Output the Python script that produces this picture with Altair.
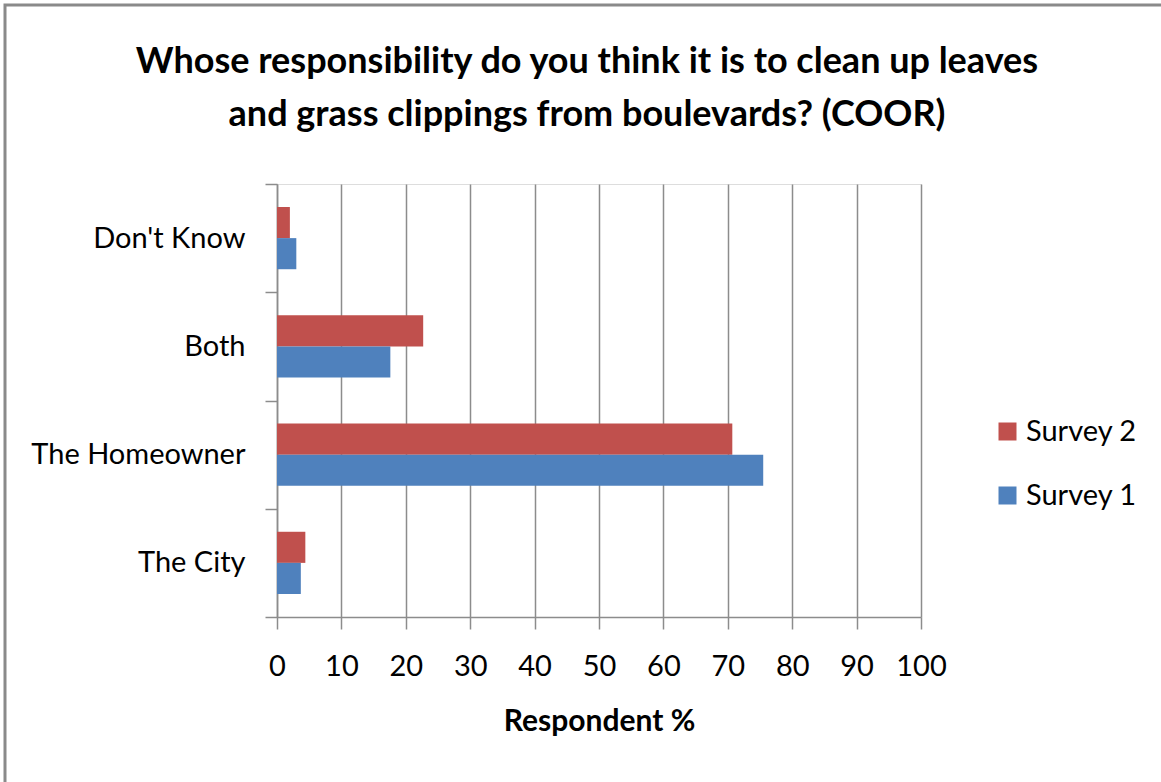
import altair as alt
import pandas as pd

categories = ["Don't Know", "Both", "The Homeowner", "The City"]
survey_2 = [2.0, 22.7, 70.7, 4.4]
survey_1 = [3.0, 17.6, 75.5, 3.7]
series = ["Survey 2", "Survey 1"]
x_ticks = list(range(0, 101, 10))
title_lines = [
    "Whose responsibility do you think it is to clean up leaves",
    "and grass clippings from boulevards? (COOR)",
]

rows = []
for c, v2, v1 in zip(categories, survey_2, survey_1):
    rows.append({"Category": c, "Series": "Survey 2", "Value": v2})
    rows.append({"Category": c, "Series": "Survey 1", "Value": v1})
df = pd.DataFrame(rows)

FONT = "Lato"
GRID = "#8c8c8c"
W, H = 644, 433
PAD_L, PAD_T = 277, 184

bars = alt.Chart(df).mark_bar().encode(
    y=alt.Y(
        "Category:N",
        sort=categories,
        scale=alt.Scale(paddingInner=0, paddingOuter=0),
        axis=alt.Axis(
            title=None, tickBand="extent", tickSize=12, labelPadding=20,
            labelFontSize=29, labelFont=FONT, labelColor="#000", labelLimit=400,
            domainColor=GRID, tickColor=GRID, domainWidth=1.5, tickWidth=1.5,
            grid=False,
        ),
    ),
    yOffset=alt.YOffset(
        "Series:N", sort=series,
        scale=alt.Scale(paddingOuter=0.74, paddingInner=0),
    ),
    x=alt.X(
        "Value:Q",
        scale=alt.Scale(domain=[0, 100], nice=False),
        axis=alt.Axis(
            values=x_ticks, title="Respondent %", grid=True, gridColor=GRID,
            gridWidth=1.5, tickSize=12, tickColor=GRID, tickWidth=1.5,
            domainColor=GRID, domainWidth=1.5, labelFontSize=29,
            labelFont=FONT, labelColor="#000", labelPadding=23,
            labelOverlap=False, labelFlush=False,
            titleFont=FONT, titleFontSize=30, titleFontWeight="bold",
            titleColor="#000", titlePadding=25,
        ),
    ),
    color=alt.Color(
        "Series:N",
        scale=alt.Scale(domain=series, range=["#C0504D", "#4F81BD"]),
        legend=alt.Legend(
            title=None, orient="none", legendX=716, legendY=233,
            symbolType="square", symbolSize=324, symbolStrokeWidth=0,
            labelFont=FONT, labelFontSize=29, labelColor="#000",
            rowPadding=34, labelOffset=4,
        ),
    ),
)

frame = alt.Chart(pd.DataFrame({"k": [0]})).mark_rect(
    fill=None, stroke="#8a8a8a", strokeWidth=3
).encode(
    x=alt.value(5 - PAD_L), x2=alt.value(1200 - PAD_L),
    y=alt.value(5 - PAD_T), y2=alt.value(820 - PAD_T),
)

chart = alt.layer(frame, bars).properties(
    width=W, height=H,
    autosize=alt.AutoSizeParams(type="none"),
    padding={"left": PAD_L, "top": PAD_T, "right": 1161 - PAD_L - W, "bottom": 782 - PAD_T - H},
    title=alt.TitleParams(
        title_lines, font=FONT, fontSize=36, fontWeight="bold", color="#000",
        lineHeight=53, anchor="middle", frame="group", offset=-130, dx=-12,
    ),
).configure_view(stroke=None).configure(background="white")

chart.save("out.html", embed_options={"renderer": "svg", "actions": False})
